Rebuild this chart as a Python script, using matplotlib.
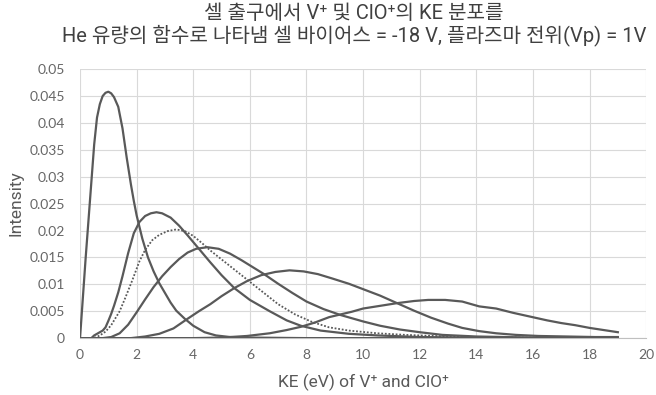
import matplotlib
matplotlib.use("Agg")
import matplotlib.pyplot as plt
from matplotlib.ticker import MultipleLocator

# energia kinetyczna (eV) i intensywnosc dla kolejnych krzywych
ke1 = [0, 0.1, 0.2, 0.3, 0.4, 0.5, 0.6, 0.7, 0.8, 0.9, 1.0, 1.1, 1.2, 1.35, 1.5, 1.65,
       1.8, 1.9, 2.0, 2.2, 2.4, 2.6, 2.8, 3.0, 3.2, 3.4, 3.7, 4.0, 4.4, 4.8, 5.3, 6.0,
       8, 10, 12, 14, 16, 19]
int1 = [0, 0.0075, 0.015, 0.022, 0.029, 0.036, 0.041, 0.0435, 0.045, 0.0456, 0.0458,
        0.0455, 0.0448, 0.043, 0.039, 0.0335, 0.0285, 0.0255, 0.0228, 0.0185, 0.015,
        0.0124, 0.0102, 0.0084, 0.0066, 0.0051, 0.0036, 0.0023, 0.0011, 0.0005, 0.0002,
        0.0001, 0, 0, 0, 0, 0, 0]

ke2 = [0, 0.4, 0.5, 0.6, 0.7, 0.8, 0.9, 1.0, 1.1, 1.2, 1.35, 1.5, 1.7, 1.9, 2.1, 2.3,
       2.5, 2.7, 2.9, 3.2, 3.5, 3.8, 4.2, 4.6, 5.0, 5.45, 6.0, 6.7, 7.3, 7.8, 8.5, 9.5,
       10.5, 12, 14, 16, 19]
int2 = [0, 0, 0.0005, 0.0008, 0.0011, 0.0014, 0.002, 0.0032, 0.0045, 0.006, 0.0085,
        0.0115, 0.0158, 0.0195, 0.0216, 0.0227, 0.0232, 0.0234, 0.0232, 0.0224, 0.0209,
        0.0191, 0.0166, 0.0141, 0.0117, 0.0093, 0.0071, 0.0050, 0.0033, 0.0023, 0.0014,
        0.0008, 0.0005, 0.0002, 0.0001, 0, 0]

ke3 = [0, 0.5, 0.7, 0.9, 1.1, 1.4, 1.6, 1.85, 2.1, 2.3, 2.55, 2.8, 3.1, 3.4, 3.7, 4.0,
       4.3, 4.6, 5.2, 5.8, 6.4, 7.0, 7.6, 8.2, 8.8, 9.5, 10.5, 11.5, 13, 15, 19]
int3 = [0, 0, 0.0005, 0.0012, 0.0024, 0.005, 0.0075, 0.0108, 0.0143, 0.0164, 0.0182,
        0.0192, 0.0199, 0.0202, 0.0199, 0.019, 0.0177, 0.0163, 0.0138, 0.0113, 0.0088,
        0.0063, 0.0044, 0.003, 0.002, 0.0014, 0.0009, 0.0006, 0.0003, 0.0001, 0]

ke4 = [0, 0.8, 1.1, 1.4, 1.7, 2.0, 2.3, 2.6, 2.9, 3.2, 3.5, 3.8, 4.1, 4.5, 4.9, 5.3,
       5.7, 6.1, 6.5, 7.0, 7.5, 8.0, 8.6, 9.2, 10.0, 10.6, 11.3, 12.0, 12.8, 14, 16, 19]
int4 = [0, 0, 0.0002, 0.0009, 0.0025, 0.0048, 0.0072, 0.0095, 0.0115, 0.0132, 0.0147,
        0.0159, 0.0166, 0.0169, 0.0166, 0.0157, 0.0145, 0.0132, 0.0119, 0.0101, 0.0084,
        0.0068, 0.0054, 0.0043, 0.0031, 0.0023, 0.0016, 0.0011, 0.0006, 0.0003, 0.0001, 0]

ke5 = [0, 1.8, 2.3, 2.8, 3.3, 3.8, 4.2, 4.6, 5.0, 5.45, 5.9, 6.4, 6.9, 7.4, 7.9, 8.4,
       8.9, 9.5, 10.0, 10.6, 11.2, 11.8, 12.4, 13.0, 13.5, 14.1, 14.7, 15.4, 16.2, 17.2,
       18.2, 19]
int5 = [0, 0, 0.0003, 0.0008, 0.0018, 0.0036, 0.005, 0.0063, 0.0078, 0.0093, 0.0106,
        0.0117, 0.0123, 0.0126, 0.0124, 0.0119, 0.0111, 0.0101, 0.0091, 0.0079, 0.0065,
        0.0051, 0.0038, 0.0027, 0.0019, 0.0013, 0.0009, 0.0006, 0.0004, 0.0003, 0.0002,
        0.0002]

ke6 = [0, 4.0, 5.0, 5.9, 6.7, 7.3, 7.8, 8.3, 8.8, 9.2, 9.6, 10.0, 10.6, 11.2, 11.8,
       12.3, 12.9, 13.5, 14.1, 14.7, 15.3, 15.9, 16.5, 17.0, 17.5, 18.0, 18.5, 19.0]
int6 = [0, 0, 0.0001, 0.0004, 0.0009, 0.0015, 0.0021, 0.0029, 0.0039, 0.0044, 0.0049,
        0.0055, 0.006, 0.0065, 0.0069, 0.0071, 0.0071, 0.0068, 0.0059, 0.0055, 0.0047,
        0.004, 0.0033, 0.0028, 0.0024, 0.0019, 0.0015, 0.0011]

tytul = "셀 출구에서 V⁺ 및 ClO⁺의 KE 분포를\nHe 유량의 함수로 나타냄 셀 바이어스 = -18 V, 플라즈마 전위(Vp) = 1V"
opis_x = "KE (eV) of V⁺ and ClO⁺"
opis_y = "Intensity"

plt.rcParams['font.family'] = ['Roboto', 'Noto Sans CJK KR', 'DejaVu Sans']

kolor_linii = '#595959'
kolor_tekstu = '#595959'

fig = plt.figure(figsize=(6.56, 3.95), dpi=100)
ax = fig.add_axes([0.122, 0.144, 0.863, 0.681])

for xs, ys in [(ke1, int1), (ke2, int2), (ke4, int4), (ke5, int5), (ke6, int6)]:
    ax.plot(xs, ys, color=kolor_linii, linewidth=1.6, zorder=3)
ax.plot(ke3, int3, color=kolor_linii, linewidth=1.3, linestyle=(0, (1, 1)), zorder=3)

ax.set_xlim(0, 20)
ax.set_ylim(0, 0.05)
ax.xaxis.set_major_locator(MultipleLocator(2))
ax.yaxis.set_major_locator(MultipleLocator(0.005))
ax.yaxis.set_major_formatter(plt.FuncFormatter(lambda v, p: f"{v:.3f}".rstrip('0').rstrip('.') if v else "0"))

ax.grid(True, color='#d9d9d9', linewidth=0.8, zorder=0)
for s in ['top', 'left', 'right']:
    ax.spines[s].set_visible(False)
ax.spines['bottom'].set_color('#bfbfbf')
ax.tick_params(length=0, labelsize=10, colors='#666666')
ax.tick_params(axis='y', pad=11)
ax.tick_params(axis='x', pad=8)
for lab in ax.get_xticklabels() + ax.get_yticklabels():
    lab.set_family(['Lato', 'DejaVu Sans'])

ax.set_xlabel(opis_x, fontsize=12.5, color=kolor_tekstu, labelpad=9)
ax.set_ylabel(opis_y, fontsize=12.5, color=kolor_tekstu, labelpad=4)

fig.text(0.54, 0.99, tytul, ha='center', va='top', fontsize=14.5, color='#404040',
         linespacing=1.05)

fig.savefig('out.png', dpi=100)
plt.close()
